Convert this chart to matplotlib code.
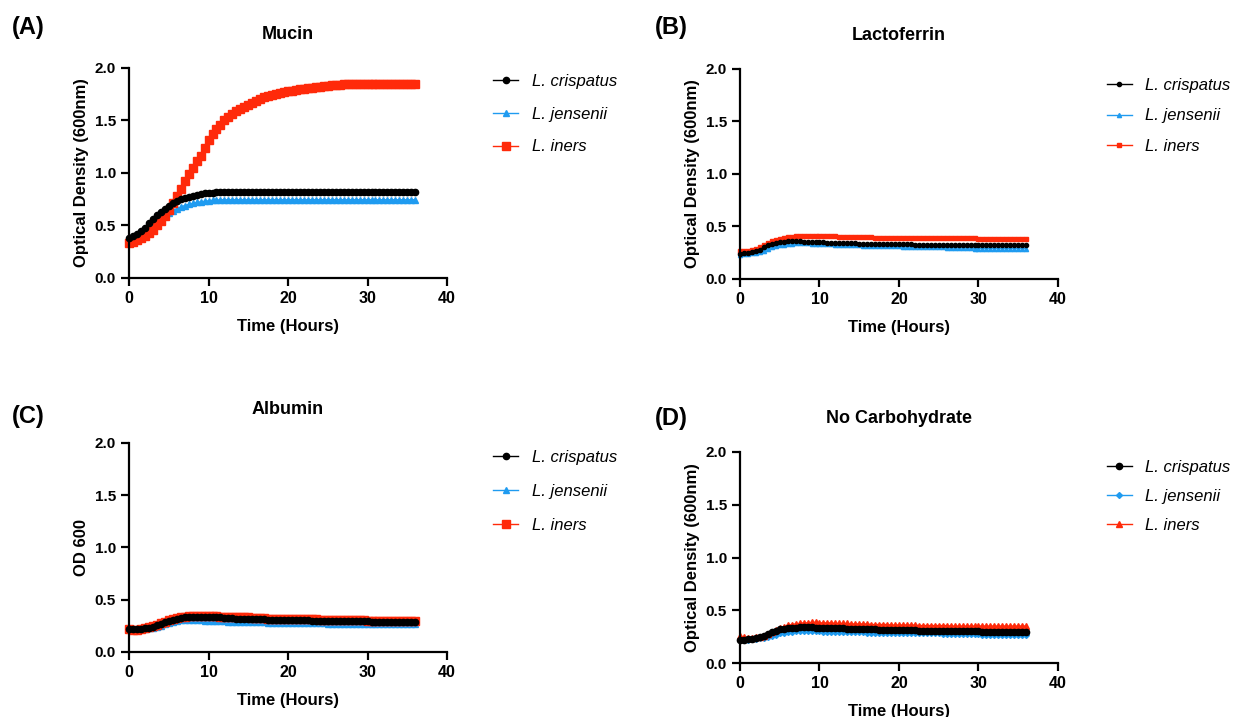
import numpy as np
import matplotlib.pyplot as plt

plt.rcParams['font.family'] = ['Liberation Sans', 'DejaVu Sans']

hours = np.arange(0, 36.5, 0.5)
names = ['L. crispatus', 'L. jensenii', 'L. iners']

# Mucin
mucin_crispatus = [0.38,0.40,0.42,0.45,0.48,0.52,0.56,0.60,0.63,0.66,
                   0.69,0.71,0.73,0.75,0.76,0.77,0.78,0.79,0.80,0.805,
                   0.81,0.81,0.815,0.815,0.82,0.82,0.82,0.82,0.82,0.82,
                   0.82,0.82,0.82,0.82,0.82,0.82,0.82,0.82,0.82,0.82,
                   0.82,0.82,0.82,0.82,0.82,0.82,0.82,0.82,0.82,0.82,
                   0.82,0.82,0.82,0.82,0.82,0.82,0.82,0.82,0.82,0.82,
                   0.82,0.82,0.82,0.82,0.82,0.82,0.82,0.82,0.82,0.82,
                   0.82,0.82,0.82]
mucin_jensenii = [0.34,0.355,0.37,0.395,0.42,0.455,0.49,0.525,0.56,0.59,
                  0.62,0.64,0.66,0.675,0.69,0.70,0.71,0.72,0.725,0.73,
                  0.735,0.74,0.74,0.745,0.745,0.745,0.745,0.745,0.745,0.745,
                  0.745,0.745,0.745,0.745,0.745,0.745,0.745,0.745,0.745,0.745,
                  0.745,0.745,0.745,0.745,0.745,0.745,0.745,0.745,0.745,0.745,
                  0.745,0.745,0.745,0.745,0.745,0.745,0.745,0.745,0.745,0.745,
                  0.745,0.745,0.745,0.745,0.745,0.745,0.745,0.745,0.745,0.745,
                  0.745,0.745,0.745]
mucin_iners = [0.33,0.34,0.36,0.38,0.40,0.43,0.46,0.50,0.54,0.59,
               0.65,0.71,0.78,0.85,0.92,0.99,1.05,1.11,1.16,1.24,
               1.31,1.37,1.42,1.46,1.50,1.53,1.56,1.59,1.61,1.63,
               1.65,1.67,1.69,1.70,1.72,1.73,1.74,1.75,1.76,1.77,
               1.78,1.78,1.79,1.80,1.80,1.81,1.81,1.82,1.82,1.83,
               1.83,1.84,1.84,1.84,1.85,1.85,1.85,1.85,1.85,1.85,
               1.85,1.85,1.85,1.85,1.85,1.85,1.85,1.85,1.85,1.85,
               1.85,1.85,1.85]

# Lactoferrin
lacto_crispatus = [0.24,0.245,0.25,0.26,0.27,0.28,0.30,0.32,0.33,0.34,
                   0.35,0.355,0.36,0.36,0.36,0.36,0.355,0.355,0.35,0.35,
                   0.35,0.35,0.345,0.345,0.345,0.34,0.34,0.34,0.34,0.34,
                   0.335,0.335,0.335,0.335,0.335,0.33,0.33,0.33,0.33,0.33,
                   0.33,0.33,0.33,0.33,0.325,0.325,0.325,0.325,0.325,0.325,
                   0.325,0.325,0.32,0.32,0.32,0.32,0.32,0.32,0.32,0.32,
                   0.32,0.32,0.32,0.32,0.32,0.32,0.32,0.32,0.32,0.32,
                   0.32,0.32,0.32]
lacto_jensenii = [0.23,0.235,0.24,0.245,0.25,0.26,0.27,0.285,0.30,0.31,
                  0.32,0.325,0.33,0.335,0.34,0.34,0.34,0.34,0.335,0.335,
                  0.335,0.33,0.33,0.33,0.325,0.325,0.325,0.32,0.32,0.32,
                  0.32,0.315,0.315,0.315,0.315,0.31,0.31,0.31,0.31,0.31,
                  0.31,0.305,0.305,0.305,0.305,0.30,0.30,0.30,0.30,0.30,
                  0.30,0.30,0.295,0.295,0.295,0.295,0.295,0.295,0.295,0.29,
                  0.29,0.29,0.29,0.29,0.29,0.29,0.29,0.29,0.29,0.29,
                  0.29,0.29,0.29]
lacto_iners = [0.27,0.27,0.27,0.28,0.29,0.30,0.32,0.34,0.36,0.37,
               0.38,0.39,0.40,0.40,0.41,0.41,0.41,0.41,0.41,0.41,
               0.41,0.41,0.41,0.41,0.41,0.40,0.40,0.40,0.40,0.40,
               0.40,0.40,0.40,0.40,0.39,0.39,0.39,0.39,0.39,0.39,
               0.39,0.39,0.39,0.39,0.39,0.39,0.39,0.39,0.39,0.39,
               0.39,0.39,0.39,0.39,0.39,0.39,0.39,0.39,0.39,0.39,
               0.38,0.38,0.38,0.38,0.38,0.38,0.38,0.38,0.38,0.38,
               0.38,0.38,0.38]

# Albumin
alb_crispatus = [0.22,0.22,0.22,0.22,0.225,0.23,0.24,0.255,0.27,0.285,
                 0.30,0.31,0.32,0.325,0.33,0.335,0.335,0.335,0.335,0.335,
                 0.33,0.33,0.33,0.33,0.325,0.325,0.325,0.32,0.32,0.32,
                 0.315,0.315,0.315,0.315,0.315,0.31,0.31,0.31,0.31,0.31,
                 0.31,0.305,0.305,0.305,0.305,0.305,0.30,0.30,0.30,0.30,
                 0.30,0.30,0.30,0.30,0.295,0.295,0.295,0.295,0.295,0.295,
                 0.295,0.29,0.29,0.29,0.29,0.29,0.29,0.29,0.29,0.29,
                 0.29,0.29,0.29]
alb_jensenii = [0.22,0.22,0.22,0.22,0.22,0.225,0.23,0.24,0.25,0.265,
                0.28,0.29,0.30,0.305,0.31,0.31,0.31,0.305,0.305,0.30,
                0.30,0.30,0.295,0.295,0.295,0.29,0.29,0.29,0.29,0.29,
                0.285,0.285,0.285,0.285,0.285,0.28,0.28,0.28,0.28,0.28,
                0.28,0.28,0.275,0.275,0.275,0.275,0.275,0.275,0.275,0.275,
                0.27,0.27,0.27,0.27,0.27,0.27,0.27,0.27,0.27,0.27,
                0.27,0.27,0.27,0.27,0.27,0.27,0.27,0.27,0.27,0.27,
                0.27,0.27,0.27]
alb_iners = [0.22,0.215,0.215,0.22,0.225,0.235,0.245,0.26,0.275,0.29,
             0.305,0.315,0.325,0.33,0.335,0.34,0.345,0.345,0.345,0.34,
             0.34,0.34,0.34,0.335,0.335,0.335,0.33,0.33,0.33,0.33,
             0.33,0.325,0.325,0.325,0.325,0.32,0.32,0.32,0.32,0.32,
             0.32,0.32,0.315,0.315,0.315,0.315,0.315,0.315,0.31,0.31,
             0.31,0.31,0.31,0.31,0.31,0.31,0.31,0.305,0.305,0.305,
             0.30,0.30,0.30,0.30,0.30,0.30,0.30,0.30,0.30,0.30,
             0.30,0.30,0.30]

# No carbohydrate
noc_crispatus = [0.22,0.22,0.225,0.23,0.24,0.25,0.26,0.275,0.29,0.305,
                 0.32,0.325,0.33,0.335,0.335,0.34,0.34,0.34,0.34,0.335,
                 0.335,0.335,0.33,0.33,0.33,0.33,0.33,0.325,0.325,0.325,
                 0.325,0.32,0.32,0.32,0.32,0.315,0.315,0.315,0.315,0.315,
                 0.315,0.31,0.31,0.31,0.31,0.305,0.305,0.305,0.305,0.305,
                 0.305,0.30,0.30,0.30,0.30,0.30,0.30,0.30,0.30,0.30,
                 0.30,0.295,0.295,0.295,0.295,0.295,0.295,0.295,0.295,0.295,
                 0.295,0.295,0.295]
noc_jensenii = [0.22,0.22,0.22,0.225,0.23,0.235,0.24,0.25,0.26,0.27,
                0.28,0.285,0.29,0.295,0.30,0.30,0.30,0.30,0.30,0.30,
                0.30,0.295,0.295,0.295,0.295,0.29,0.29,0.29,0.29,0.29,
                0.29,0.29,0.285,0.285,0.285,0.285,0.285,0.285,0.285,0.285,
                0.285,0.28,0.28,0.28,0.28,0.28,0.28,0.28,0.28,0.28,
                0.28,0.275,0.275,0.275,0.275,0.275,0.275,0.275,0.275,0.275,
                0.275,0.27,0.27,0.27,0.27,0.27,0.27,0.27,0.27,0.27,
                0.27,0.27,0.27]
noc_iners = [0.26,0.245,0.24,0.24,0.245,0.25,0.26,0.275,0.295,0.31,
             0.33,0.345,0.36,0.365,0.37,0.375,0.38,0.38,0.385,0.385,
             0.38,0.38,0.38,0.38,0.375,0.375,0.375,0.375,0.37,0.37,
             0.37,0.37,0.37,0.365,0.365,0.365,0.365,0.365,0.36,0.36,
             0.36,0.36,0.36,0.36,0.36,0.355,0.355,0.355,0.355,0.355,
             0.355,0.355,0.355,0.35,0.35,0.35,0.35,0.35,0.35,0.35,
             0.35,0.35,0.35,0.35,0.35,0.35,0.35,0.35,0.35,0.35,
             0.35,0.35,0.35]

BLACK = '#000000'
BLUE = '#1f9bf0'
RED = '#ff2a0a'

panels = [
    # label, label pos, title, ylabel, axes rect, data, markers, marker sizes,
    # legend anchor, legend spacing
    ('(A)', (0.0097, 0.962), 'Mucin', 'Optical Density (600nm)',
     [0.1043, 0.6123, 0.2571, 0.2929],
     [mucin_crispatus, mucin_jensenii, mucin_iners], ['o', '^', 's'], [4.5, 4, 5.5],
     (0.3868, 0.918), 1.07),
    ('(B)', (0.5295, 0.962), 'Lactoferrin', 'Optical Density (600nm)',
     [0.5982, 0.6109, 0.2571, 0.2929],
     [lacto_crispatus, lacto_jensenii, lacto_iners], ['o', '^', 's'], [3, 3, 3.5],
     (0.8824, 0.912), 0.92),
    ('(C)', (0.0097, 0.4185), 'Albumin', 'OD 600',
     [0.1043, 0.0907, 0.2571, 0.2915],
     [alb_crispatus, alb_jensenii, alb_iners], ['o', '^', 's'], [4.5, 4, 5.5],
     (0.3868, 0.3933), 1.13),
    ('(D)', (0.5295, 0.4157), 'No Carbohydrate', 'Optical Density (600nm)',
     [0.5982, 0.0753, 0.2571, 0.2943],
     [noc_crispatus, noc_jensenii, noc_iners], ['o', 'D', '^'], [4.5, 3, 4],
     (0.8824, 0.3793), 0.83),
]

fig = plt.figure(figsize=(12.37, 7.17), dpi=100)

for label, lpos, title, ylab, rect, data, markers, msizes, anchor, lspace in panels:
    ax = fig.add_axes(rect)
    colors = [BLACK, BLUE, RED]
    handles = {}
    for i in [1, 2, 0]:
        ln, = ax.plot(hours, data[i], color=colors[i], marker=markers[i],
                      markersize=msizes[i], linewidth=1, clip_on=False,
                      label=names[i])
        handles[i] = ln
    ax.set_xlim(0, 40)
    ax.set_ylim(0, 2.0)
    ax.set_xticks([0, 10, 20, 30, 40])
    ax.set_yticks([0, 0.5, 1.0, 1.5, 2.0])
    ax.set_yticklabels(['0.0', '0.5', '1.0', '1.5', '2.0'])
    for s in ['top', 'right']:
        ax.spines[s].set_visible(False)
    for s in ['left', 'bottom']:
        ax.spines[s].set_linewidth(1.6)
    ax.tick_params(width=1.6, length=6)
    ax.tick_params(axis='x', labelsize=11.5)
    ax.tick_params(axis='y', labelsize=11)
    for t in ax.get_xticklabels() + ax.get_yticklabels():
        t.set_fontweight('bold')
    ax.set_xlabel('Time (Hours)', fontsize=12, fontweight='bold', labelpad=9)
    ax.set_ylabel(ylab, fontsize=12, fontweight='bold', labelpad=4)
    ax.set_title(title, fontsize=13, fontweight='bold', pad=21)
    fig.legend([handles[0], handles[1], handles[2]], names, loc='upper left',
               bbox_to_anchor=anchor, frameon=False,
               prop={'style': 'italic', 'size': 12},
               handlelength=1.5, labelspacing=lspace, handletextpad=0.8)
    fig.text(lpos[0], lpos[1], label, fontsize=17, fontweight='bold',
             ha='left', va='center')

fig.savefig('out.png', dpi=100)
